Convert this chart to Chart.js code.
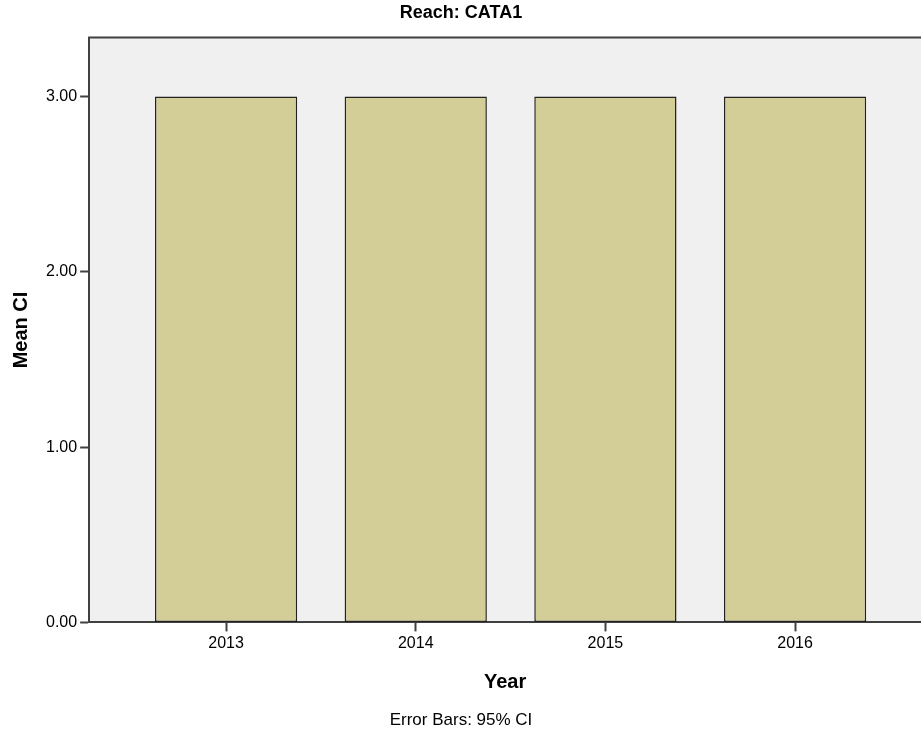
<!DOCTYPE html>
<html>
<head>
<meta charset="utf-8">
<script src="https://cdn.jsdelivr.net/npm/chart.js"></script>
<style>
  html, body { margin: 0; padding: 0; background: #fff; overflow: hidden; }
  #wrap { width: 921px; height: 742px; }
</style>
</head>
<body>
<div id="wrap"><canvas id="chart" width="921" height="742"></canvas></div>
<script>
const years = [2013, 2014, 2015, 2016]
const meanCI = [3.0, 3.0, 3.0, 3.0]
const yTicks = [0, 1, 2, 3]

const axisColor = '#404040'

// plot background plus the top frame line
const plotFrame = {
    id: 'plotFrame',
    beforeDraw(chart) {
        const { ctx, chartArea } = chart
        ctx.save()
        ctx.fillStyle = '#f0f0f0'
        ctx.fillRect(chartArea.left, chartArea.top, chartArea.right - chartArea.left, chartArea.bottom - chartArea.top)
        ctx.strokeStyle = axisColor
        ctx.lineWidth = 2
        ctx.beginPath()
        ctx.moveTo(chartArea.left - 1, chartArea.top)
        ctx.lineTo(chartArea.right, chartArea.top)
        ctx.stroke()
        ctx.restore()
    }
}

Chart.defaults.font.family = "'Liberation Sans', Arial, sans-serif"
Chart.defaults.color = '#000'

new Chart(document.getElementById('chart'), {
    type: 'bar',
    data: {
        datasets: [
            {
                label: 'Mean CI',
                data: years.map((y, i) => ({ x: y, y: meanCI[i] })),
                backgroundColor: '#d3ce97',
                borderColor: '#222',
                borderWidth: 1.5,
                borderSkipped: false,
                barPercentage: 0.75,
                categoryPercentage: 1,
            },
        ],
    },
    options: {
        responsive: false,
        animation: false,
        layout: { padding: { left: 1, right: 0, top: 0, bottom: 0 } },
        plugins: {
            legend: { display: false },
            tooltip: { enabled: false },
            title: {
                display: true,
                text: 'Reach: CATA1',
                color: '#000',
                font: { size: 18, weight: 'bold' },
                padding: { top: 2, bottom: 14 },
            },
            subtitle: {
                display: true,
                position: 'bottom',
                text: 'Error Bars: 95% CI',
                color: '#000',
                font: { size: 17 },
                padding: { top: 10, bottom: 11 },
            },
        },
        scales: {
            x: {
                type: 'linear',
                offset: false,
                min: 2012.278,
                max: 2016.664,
                border: { display: true, color: axisColor, width: 2 },
                grid: { offset: false, drawOnChartArea: false, drawTicks: true, tickLength: 9, tickColor: axisColor, tickWidth: 2 },
                ticks: {
                    stepSize: 1,
                    includeBounds: false,
                    padding: 3,
                    font: { size: 16 },
                    color: '#000',
                    callback: v => String(v),
                },
                title: {
                    display: true,
                    text: 'Year',
                    color: '#000',
                    font: { size: 20, weight: 'bold' },
                    padding: { top: 14, bottom: 6 },
                },
            },
            y: {
                min: 0,
                max: 3.336,
                border: { display: true, color: axisColor, width: 2 },
                grid: { drawOnChartArea: false, drawTicks: true, tickLength: 9, tickColor: axisColor, tickWidth: 2 },
                afterBuildTicks: axis => { axis.ticks = yTicks.map(v => ({ value: v })) },
                ticks: {
                    padding: 3,
                    font: { size: 16 },
                    color: '#000',
                    callback: v => Number(v).toFixed(2),
                },
                title: {
                    display: true,
                    text: 'Mean CI',
                    color: '#000',
                    font: { size: 20, weight: 'bold' },
                    padding: { top: 8, bottom: 10 },
                },
            },
        },
    },
    plugins: [plotFrame],
})
</script>
</body>
</html>
